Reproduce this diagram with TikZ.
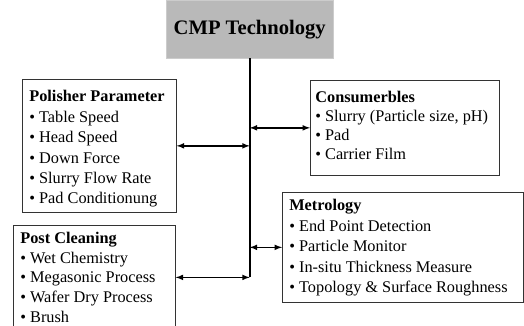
\documentclass[tikz,border=0pt]{standalone}
\usepackage{fontspec}
\setmainfont{Liberation Serif}
\usepackage{tikz}
\usetikzlibrary{arrows,shapes,positioning,calc}

% lines of a box, hanging from the first baseline
\newcommand{\boxlines}[1]{\begin{tabular}[t]{@{}l@{}}#1\end{tabular}}
% first line of a box: bold head, padded to the box's inner width
\newcommand{\boxhead}[2]{\makebox[#1][l]{\textbf{#2}}}

\begin{document}
\begin{tikzpicture}[x=1pt, y=-1pt,
    box/.style={draw=black!80, line width=0.7pt, anchor=north west,
        inner xsep=7pt, inner ysep=0pt,
        font=\fontsize{16.3}{20.4}\selectfont},
    dbl/.style={latex-latex, line width=1.5pt},
    trunk/.style={line width=1.9pt}]
    \useasboundingbox (0,0) rectangle (524,325);
    \clip (0,0) rectangle (524,325);

    % Title
    \node[fill=gray!55, draw=gray!40, minimum width=167pt, minimum height=58pt,
        anchor=north west, font=\fontsize{20.6}{24}\selectfont\bfseries]
        (title) at (166,0) {CMP Technology};

    % Left boxes
    \node[box, text height=22.5pt, text depth=110.5pt] (polisher) at (22,79)
        {\boxlines{\boxhead{140pt}{Polisher Parameter}\\ • Table Speed\\ • Head Speed\\
         • Down Force\\ • Slurry Flow Rate\\ • Pad Conditionung}};
    \node[box, text height=18pt, text depth=100pt,
        font=\fontsize{16.3}{19.8}\selectfont] (post) at (13,225)
        {\boxlines{\boxhead{148pt}{Post Cleaning}\\ • Wet Chemistry\\ • Megasonic Process\\
         • Wafer Dry Process\\ • Brush}};

    % Right boxes
    \node[box, inner xsep=5pt, text height=22.5pt, text depth=72.5pt,
        font=\fontsize{16.3}{19}\selectfont] (consum) at (310,80)
        {\boxlines{\boxhead{179pt}{Consumerbles}\\ • Slurry (Particle size, pH)\\ • Pad\\
         • Carrier Film}};
    \node[box, text height=18.5pt, text depth=91.5pt,
        font=\fontsize{16.3}{20.5}\selectfont] (metro) at (282,192)
        {\boxlines{\boxhead{227pt}{Metrology}\\ • End Point Detection\\ • Particle Monitor\\
         • In-situ Thickness Measure\\ • Topology \& Surface Roughness}};

    % Trunk and arrows
    \coordinate (trunkend) at ($(title.south)+(0,219)$);
    \draw[trunk] (title.south) -- (trunkend);
    \draw[dbl] (polisher.east) -- (polisher.east -| trunkend);
    \draw[dbl] (consum.west -| trunkend) -- (consum.west);
    \draw[dbl] (metro.west -| trunkend) -- (metro.west);
    \draw[dbl] (post.east |- trunkend) -- (trunkend);
\end{tikzpicture}
\end{document}
